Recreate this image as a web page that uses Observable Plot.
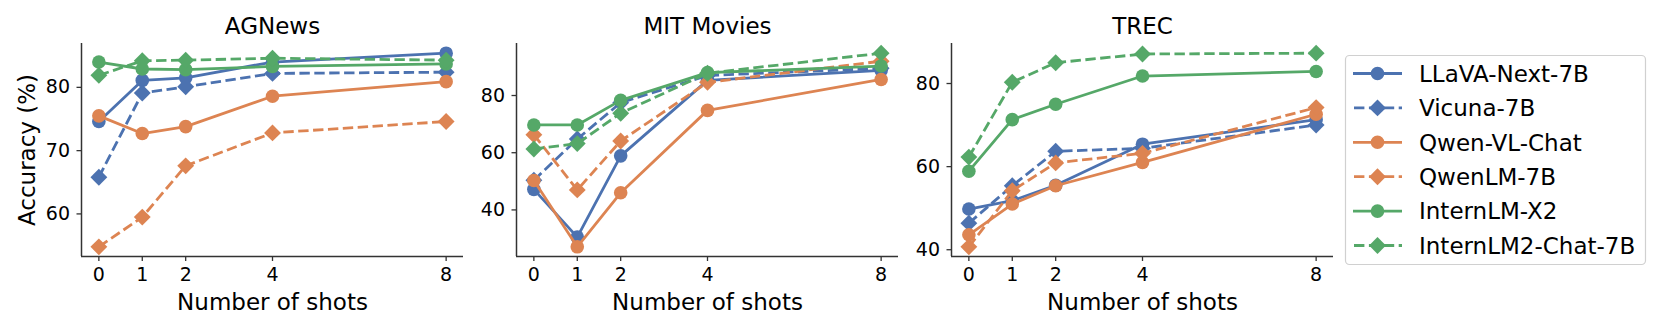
<!DOCTYPE html>
<html>
<head>
<meta charset="utf-8">
<script src="https://cdn.jsdelivr.net/npm/d3@7"></script>
<script src="https://cdn.jsdelivr.net/npm/@observablehq/plot@0.6"></script>
<style>
  html, body { margin: 0; padding: 0; background: #fff; }
  #root { position: relative; width: 1661px; height: 332px; background: #fff; overflow: hidden; font-family: "DejaVu Sans", sans-serif; }
  #root > svg { position: absolute; top: 0; }
</style>
</head>
<body>
<div id="root"></div>
<script>
// ---- data ----
const shots = [0, 1, 2, 4, 8];
const models = ["LLaVA-Next-7B", "Vicuna-7B", "Qwen-VL-Chat", "QwenLM-7B", "InternLM-X2", "InternLM2-Chat-7B"];
const datasets = ["AGNews", "MIT Movies", "TREC"];

// rows follow the order of `models`
const agnews = [
  [74.6, 81.1, 81.5, 84.0, 85.4],
  [65.8, 79.1, 80.1, 82.2, 82.4],
  [75.5, 72.7, 73.8, 78.6, 80.9],
  [54.8, 59.5, 67.6, 72.8, 74.6],
  [84.0, 82.9, 82.8, 83.3, 83.7],
  [81.9, 84.2, 84.3, 84.6, 84.3]
];
const mitMovies = [
  [47.2, 30.5, 58.9, 85.3, 88.8],
  [50.4, 64.8, 77.5, 87.0, 89.5],
  [50.3, 27.1, 46.0, 74.8, 85.6],
  [66.3, 47.0, 64.1, 84.6, 92.0],
  [69.7, 69.7, 78.3, 88.0, 90.3],
  [61.3, 63.2, 73.8, 87.8, 94.8]
];
const trec = [
  [49.8, 51.8, 55.5, 65.4, 71.3],
  [46.4, 55.4, 63.7, 64.4, 70.0],
  [43.6, 51.0, 55.4, 61.0, 72.6],
  [40.7, 54.2, 60.9, 63.2, 74.2],
  [58.9, 71.3, 75.0, 81.8, 82.9],
  [62.3, 80.3, 85.0, 87.1, 87.3]
];
const yTicks = [[60, 70, 80], [40, 60, 80], [40, 60, 80]];

// ---- styles ----
const colors = ["#4C72B0", "#4C72B0", "#DD8452", "#DD8452", "#55A868", "#55A868"];
const isDashed = [false, true, false, true, false, true];
const symbols = ["circle", "diamond2", "circle", "diamond2", "circle", "diamond2"];
const tables = [agnews, mitMovies, trec];

const root = document.getElementById("root");
const W = 1661, H = 332;
const plotTop = 43, plotBottom = 256, plotW = 382, step = 435, firstLeft = 81;
const mL = 62, mR = 24;
const LW = 2.8, RC = 6.8, RD = 7.6, DASH = "10.4,4.5";

tables.forEach((tbl, di) => {
  const rows = [];
  tbl.forEach((vals, mi) => vals.forEach((v, si) => rows.push({model: models[mi], mi, shot: shots[si], acc: v})));
  const vmin = d3.min(rows, d => d.acc), vmax = d3.max(rows, d => d.acc);
  const pad = (vmax - vmin) * 0.05;
  const yDom = [vmin - pad, vmax + pad];
  const xDom = [-0.4, 8.4];

  const marks = [
    Plot.ruleX([xDom[0]], {stroke: "#333", strokeWidth: 1.5}),
    Plot.ruleY([yDom[0]], {stroke: "#333", strokeWidth: 1.5}),
    Plot.axisX({ticks: shots, tickSize: 5, tickPadding: 6, label: null, stroke: "#333", strokeWidth: 1.3, fontSize: 19}),
    Plot.axisY({ticks: yTicks[di], tickSize: 4.5, tickPadding: 7, label: null, stroke: "#333", strokeWidth: 1.3, fontSize: 19}),
    Plot.text([datasets[di]], {frameAnchor: "top", dy: -10, lineAnchor: "bottom", fontSize: 23, fill: "black"}),
    Plot.text(["Number of shots"], {frameAnchor: "bottom", dy: 53, lineAnchor: "bottom", fontSize: 23, fill: "black"})
  ];
  if (di === 0) {
    marks.push(Plot.text(["Accuracy (%)"], {frameAnchor: "left", textAnchor: "middle", dx: -54, rotate: -90, fontSize: 23, fill: "black"}));
  }
  models.forEach((m, mi) => {
    const data = rows.filter(d => d.mi === mi);
    marks.push(Plot.line(data, {
      x: "shot", y: "acc", stroke: colors[mi], strokeWidth: LW,
      strokeDasharray: isDashed[mi] ? DASH : null, strokeLinecap: "butt", strokeLinejoin: "round"
    }));
    marks.push(Plot.dot(data, {
      x: "shot", y: "acc", fill: colors[mi], stroke: "none",
      symbol: symbols[mi], r: symbols[mi] === "circle" ? RC : RD
    }));
  });

  const svg = Plot.plot({
    width: mL + plotW + mR,
    height: H,
    marginLeft: mL, marginRight: mR, marginTop: plotTop, marginBottom: H - plotBottom,
    x: {domain: xDom, axis: null},
    y: {domain: yDom, axis: null},
    style: {fontFamily: "DejaVu Sans", fontSize: "19px", color: "black", background: "transparent", overflow: "visible"},
    marks
  });
  svg.style.left = (firstLeft + step * di - mL) + "px";
  root.appendChild(svg);
});

// ---- legend ----
const lg = d3.select(root).append("svg")
  .attr("width", W).attr("height", H)
  .style("left", "0px").style("pointer-events", "none");
lg.append("rect")
  .attr("x", 1345.5).attr("y", 55.5).attr("width", 300).attr("height", 209)
  .attr("rx", 4).attr("fill", "white").attr("fill-opacity", 0.8)
  .attr("stroke", "#d0d0d0").attr("stroke-width", 1.2);
models.forEach((m, mi) => {
  const cy = 73.5 + mi * 34.4;
  const g = lg.append("g");
  g.append("line").attr("x1", 1353).attr("x2", 1402).attr("y1", cy).attr("y2", cy)
    .attr("stroke", colors[mi]).attr("stroke-width", LW)
    .attr("stroke-dasharray", isDashed[mi] ? DASH : null)
    .attr("stroke-dashoffset", isDashed[mi] ? -1 : null);
  const sym = symbols[mi] === "circle" ? d3.symbolCircle : d3.symbolDiamond2;
  const r = symbols[mi] === "circle" ? RC : RD;
  g.append("path").attr("d", d3.symbol(sym, Math.PI * r * r)())
    .attr("transform", `translate(1377.5,${cy})`).attr("fill", colors[mi]);
  g.append("text").attr("x", 1419).attr("y", cy).attr("dy", "0.36em")
    .attr("font-family", "DejaVu Sans").attr("font-size", 23).attr("fill", "black")
    .text(m);
});
</script>
</body>
</html>
